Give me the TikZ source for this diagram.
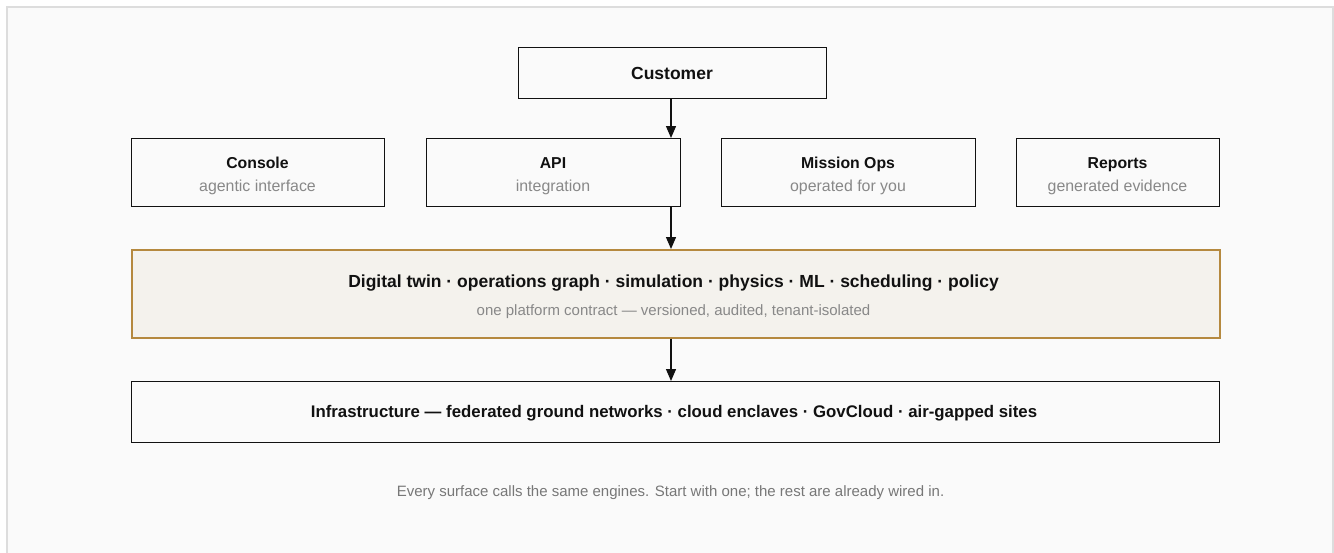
\documentclass[tikz,border=0pt]{standalone}
\usepackage{fontspec}
\setmainfont{Liberation Sans}
\usetikzlibrary{arrows.meta}
\definecolor{framegray}{HTML}{DDDDDD}
\definecolor{bgfill}{HTML}{FAFAFA}
\definecolor{subgray}{HTML}{888888}
\definecolor{footgray}{HTML}{777777}
\definecolor{corefill}{HTML}{F4F2ED}
\definecolor{coreline}{HTML}{B5893F}
\definecolor{ink}{HTML}{111111}
\tikzset{
  boxnode/.style={draw=ink, line width=1.3pt, fill=bgfill, inner sep=0pt, anchor=north west},
  corenode/.style={draw=coreline, line width=1.5pt, fill=corefill, inner sep=0pt, anchor=north west},
  ttl/.style={font=\fontsize{15.8}{18}\selectfont\bfseries, text=ink, inner sep=0pt, anchor=base},
  bigttl/.style={font=\fontsize{17.5}{20}\selectfont\bfseries, text=ink, inner sep=0pt, anchor=base},
  infrattl/.style={font=\fontsize{16.8}{20}\selectfont\bfseries, text=ink, inner sep=0pt, anchor=base},
  sub/.style={font=\fontsize{15.9}{18}\selectfont, text=subgray, inner sep=0pt, anchor=base},
  coresub/.style={font=\fontsize{15}{18}\selectfont, text=subgray, inner sep=0pt, anchor=base},
  foot/.style={font=\fontsize{15}{18}\selectfont, text=footgray, inner sep=0pt, anchor=base},
  arr/.style={draw=ink, line width=1.3pt, -{Triangle[width=10pt,length=12pt]}}
}
\begin{document}
\begin{tikzpicture}[x=1pt,y=-1pt]
\useasboundingbox (0,0) rectangle (1334,552);
\clip (0,0) rectangle (1334,552);
\fill[white] (0,0) rectangle (1334,552);
\draw[draw=framegray, line width=2pt, fill=bgfill] (7,7) rectangle (1333,600);

% boxes
\node[boxnode, minimum width=308pt, minimum height=51pt] (cust) at (518,47) {};
\node[boxnode, minimum width=253pt, minimum height=68pt] (console) at (131,138) {};
\node[boxnode, minimum width=254pt, minimum height=68pt] (api) at (426,138) {};
\node[boxnode, minimum width=254pt, minimum height=68pt] (ops) at (721,138) {};
\node[boxnode, minimum width=203pt, minimum height=68pt] (reports) at (1016,138) {};
\node[corenode, minimum width=1088pt, minimum height=88pt] (core) at (131,249) {};
\node[boxnode, minimum width=1088pt, minimum height=61pt] (infra) at (131,381) {};

% texts
\node[bigttl] (custT) at (672,79) {Customer};
\node[ttl] (consoleT) at (257.5,168.5) {Console};
\node[sub] (consoleS) at (257.5,191) {agentic interface};
\node[ttl] (apiT) at (553,168.5) {API};
\node[sub] (apiS) at (553,191) {integration};
\node[ttl] (opsT) at (848,168.5) {Mission Ops};
\node[sub] (opsS) at (848,191) {operated for you};
\node[ttl] (reportsT) at (1117.5,168.5) {Reports};
\node[sub] (reportsS) at (1117.5,191) {generated evidence};
\node[bigttl] (coreT) at (673.5,287) {Digital twin · operations graph · simulation · physics · ML · scheduling · policy};
\node[coresub] (coreS) at (673.5,315) {one platform contract — versioned, audited, tenant-isolated};
\node[infrattl] (infraT) at (674,417.5) {Infrastructure — federated ground networks · cloud enclaves · GovCloud · air-gapped sites};
\node[foot] (footT) at (670.5,496) {Every surface calls the same engines. Start with one; the rest are already wired in.};

% connectors
\coordinate (spine) at (671,0);
\draw[arr] (cust.south -| spine) -- (api.north -| spine);
\draw[arr] (api.south -| spine) -- (core.north -| spine);
\draw[arr] (core.south -| spine) -- (infra.north -| spine);
\end{tikzpicture}
\end{document}
